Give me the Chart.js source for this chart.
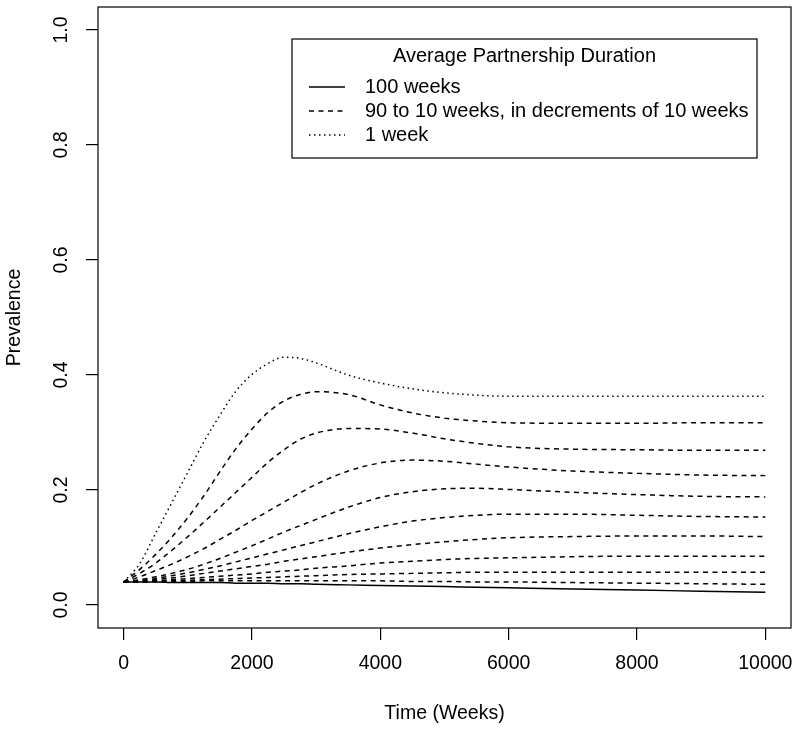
<!DOCTYPE html>
<html>
<head>
<meta charset="utf-8">
<script src="https://cdn.jsdelivr.net/npm/chart.js@4.4.1/dist/chart.umd.min.js"></script>
<style>
  body { margin: 0; background: #fff; }
  canvas { display: block; }
</style>
</head>
<body>
<canvas id="myChart" width="800" height="731"></canvas>
<script>
// time points (weeks) and prevalence
const weeks = [0, 250, 500, 750, 1000, 1250, 1500, 1750, 2000, 2250, 2500, 2750, 3000, 3500, 4000, 4500, 5000, 5500, 6000, 7000, 8000, 9000, 10000]

const dur100 = [0.040, 0.040, 0.040, 0.039, 0.039, 0.039, 0.039, 0.038, 0.038, 0.038, 0.037, 0.037, 0.036, 0.035, 0.034, 0.033, 0.032, 0.031, 0.030, 0.028, 0.026, 0.024, 0.022]
const dur90 = [0.040, 0.040, 0.041, 0.041, 0.041, 0.042, 0.042, 0.042, 0.042, 0.042, 0.042, 0.042, 0.042, 0.042, 0.042, 0.041, 0.041, 0.040, 0.040, 0.039, 0.038, 0.037, 0.036]
const dur80 = [0.040, 0.040, 0.041, 0.042, 0.043, 0.044, 0.045, 0.046, 0.047, 0.048, 0.049, 0.050, 0.051, 0.053, 0.054, 0.055, 0.056, 0.057, 0.057, 0.057, 0.057, 0.057, 0.057]
const dur70 = [0.040, 0.041, 0.042, 0.044, 0.046, 0.048, 0.050, 0.052, 0.054, 0.057, 0.059, 0.061, 0.064, 0.068, 0.073, 0.076, 0.079, 0.081, 0.082, 0.084, 0.085, 0.085, 0.085]
const dur60 = [0.040, 0.041, 0.044, 0.047, 0.051, 0.055, 0.059, 0.063, 0.067, 0.071, 0.076, 0.080, 0.084, 0.092, 0.099, 0.105, 0.110, 0.114, 0.117, 0.119, 0.120, 0.120, 0.119]
const dur50 = [0.040, 0.042, 0.046, 0.051, 0.056, 0.062, 0.068, 0.075, 0.082, 0.089, 0.096, 0.103, 0.110, 0.124, 0.136, 0.146, 0.152, 0.156, 0.158, 0.158, 0.156, 0.154, 0.153]
const dur40 = [0.040, 0.044, 0.049, 0.055, 0.062, 0.071, 0.081, 0.092, 0.103, 0.115, 0.127, 0.138, 0.149, 0.170, 0.187, 0.197, 0.202, 0.203, 0.201, 0.196, 0.192, 0.189, 0.188]
const dur30 = [0.040, 0.049, 0.060, 0.071, 0.084, 0.098, 0.114, 0.130, 0.147, 0.163, 0.179, 0.195, 0.210, 0.233, 0.247, 0.252, 0.250, 0.245, 0.240, 0.233, 0.229, 0.226, 0.225]
const dur20 = [0.040, 0.055, 0.073, 0.095, 0.119, 0.144, 0.170, 0.196, 0.222, 0.248, 0.270, 0.288, 0.299, 0.307, 0.306, 0.299, 0.289, 0.281, 0.275, 0.271, 0.270, 0.269, 0.269]
const dur10 = [0.040, 0.062, 0.088, 0.118, 0.152, 0.190, 0.232, 0.272, 0.306, 0.335, 0.355, 0.366, 0.371, 0.366, 0.348, 0.334, 0.325, 0.320, 0.317, 0.316, 0.316, 0.317, 0.317]
const dur1 = [0.040, 0.072, 0.125, 0.178, 0.231, 0.284, 0.330, 0.372, 0.401, 0.420, 0.431, 0.429, 0.421, 0.400, 0.386, 0.376, 0.369, 0.365, 0.363, 0.363, 0.363, 0.363, 0.363]

const durations = [100, 90, 80, 70, 60, 50, 40, 30, 20, 10, 1]
const series = [dur100, dur90, dur80, dur70, dur60, dur50, dur40, dur30, dur20, dur10, dur1]

const xTicks = [0, 2000, 4000, 6000, 8000, 10000]
const xTickLabels = ['0', '2000', '4000', '6000', '8000', '10000']
const yTicks = [0, 0.2, 0.4, 0.6, 0.8, 1.0]
const yTickLabels = ['0.0', '0.2', '0.4', '0.6', '0.8', '1.0']

const legendTitle = 'Average Partnership Duration'
const legendLabels = ['100 weeks', '90 to 10 weeks, in decrements of 10 weeks', '1 week']

const FAMILY = '"Liberation Sans", Arial, Helvetica, sans-serif'
const SOLID = [], DASHED = [5, 4.5], DOTTED = [1.5, 3.5]

function dashFor(d) {
    if (d === 100) return SOLID
    if (d === 1) return DOTTED
    return DASHED
}

const datasets = series.map((vals, i) => ({
    label: durations[i] + ' weeks',
    data: weeks.map((w, j) => ({ x: w, y: vals[j] })),
    borderColor: '#000',
    borderWidth: 1.5,
    borderDash: dashFor(durations[i]),
    pointRadius: 0,
    cubicInterpolationMode: 'monotone',
    fill: false
}))

// box, rotated y labels and the legend, R style
const rStyle = {
    id: 'rStyle',
    afterDraw(chart) {
        const { ctx, chartArea: a } = chart
        const y = chart.scales.y
        ctx.save()
        ctx.strokeStyle = '#000'
        ctx.lineWidth = 1.2
        ctx.setLineDash([])
        ctx.strokeRect(a.left, a.top, a.right - a.left, a.bottom - a.top)

        ctx.fillStyle = '#000'
        ctx.font = '19.5px ' + FAMILY
        ctx.textAlign = 'center'
        ctx.textBaseline = 'middle'
        y.ticks.forEach((t, i) => {
            const py = y.getPixelForValue(t.value)
            ctx.save()
            ctx.translate(62, py)
            ctx.rotate(-Math.PI / 2)
            ctx.fillText(yTickLabels[i], 0, 0)
            ctx.restore()
        })

        // legend
        const bx = 292, by = 39, bw = 465, bh = 119
        ctx.lineWidth = 1.2
        ctx.strokeRect(bx, by, bw, bh)
        ctx.font = '20px ' + FAMILY
        ctx.fillText(legendTitle, bx + bw / 2, 56)
        const dashes = [SOLID, DASHED, DOTTED]
        const rows = [87, 111, 135]
        legendLabels.forEach((txt, i) => {
            ctx.setLineDash(dashes[i])
            ctx.lineWidth = 1.5
            ctx.beginPath()
            ctx.moveTo(309, rows[i])
            ctx.lineTo(345, rows[i])
            ctx.stroke()
            ctx.textAlign = 'left'
            ctx.fillText(txt, 365, rows[i])
        })
        ctx.restore()
    }
}

const config = {
    type: 'line',
    data: { datasets },
    options: {
        responsive: false,
        animation: false,
        layout: { padding: { top: 7, right: 9, left: 0, bottom: 0 } },
        plugins: { legend: { display: false }, tooltip: { enabled: false } },
        scales: {
            x: {
                type: 'linear',
                min: -400,
                max: 10400,
                afterBuildTicks: s => { s.ticks = xTicks.map(v => ({ value: v })) },
                afterFit: s => { s.height = 103; s.paddingLeft = 0; s.paddingRight = 0 },
                grid: { display: true, drawOnChartArea: false, drawTicks: true, tickLength: 12, color: '#000', lineWidth: 1.2 },
                border: { display: false },
                ticks: {
                    padding: 12,
                    color: '#000',
                    font: { family: FAMILY, size: 19.5, lineHeight: 1.2 },
                    maxRotation: 0,
                    autoSkip: false,
                    callback: (v, i) => xTickLabels[i]
                },
                title: {
                    display: true,
                    text: 'Time (Weeks)',
                    color: '#000',
                    font: { family: FAMILY, size: 19.5, lineHeight: 1.2 },
                    padding: { top: 0, bottom: 6 }
                }
            },
            y: {
                type: 'linear',
                min: -0.04,
                max: 1.04,
                afterBuildTicks: s => { s.ticks = yTicks.map(v => ({ value: v })) },
                afterFit: s => { s.width = 98; s.paddingTop = 0; s.paddingBottom = 0 },
                grid: { display: true, drawOnChartArea: false, drawTicks: true, tickLength: 12, color: '#000', lineWidth: 1.2 },
                border: { display: false },
                ticks: { display: false },
                title: {
                    display: true,
                    text: 'Prevalence',
                    color: '#000',
                    font: { family: FAMILY, size: 19.5, lineHeight: 1.2 },
                    padding: { top: 3, bottom: 0 }
                }
            }
        }
    },
    plugins: [rStyle]
}

const canvas = document.getElementById('myChart')
let myChart
if (canvas) {
    myChart = new Chart(canvas, config)
}
</script>
</body>
</html>
